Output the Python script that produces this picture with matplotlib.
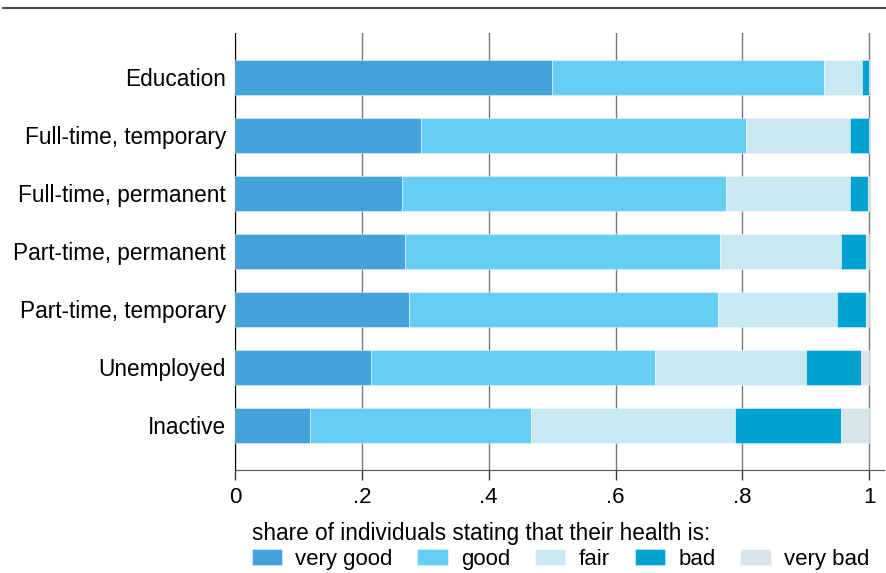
import matplotlib.pyplot as plt
import numpy as np

plt.rcParams['font.family'] = ['Liberation Sans', 'DejaVu Sans']

groups = ["Education", "Full-time, temporary", "Full-time, permanent",
          "Part-time, permanent", "Part-time, temporary", "Unemployed", "Inactive"]
very_good = [0.500, 0.294, 0.264, 0.268, 0.274, 0.215, 0.118]
good = [0.429, 0.511, 0.510, 0.497, 0.487, 0.447, 0.349]
fair = [0.060, 0.165, 0.196, 0.191, 0.188, 0.238, 0.321]
bad = [0.010, 0.029, 0.028, 0.039, 0.046, 0.087, 0.168]
very_bad = [0.001, 0.001, 0.002, 0.005, 0.005, 0.013, 0.044]

names = ["very good", "good", "fair", "bad", "very bad"]
colors = ["#44a2db", "#67cdf5", "#c8e8f2", "#00a2d2", "#d6e5ec"]
series = [very_good, good, fair, bad, very_bad]

fig = plt.figure(figsize=(8.86, 5.73), dpi=100)
ax = fig.add_axes([0.2652, 0.1798, 0.7325, 0.7626])

y = np.arange(len(groups))
left = np.zeros(len(groups))
for vals, name, col in zip(series, names, colors):
    ax.barh(y, vals, left=left, height=0.6, color=col, label=name,
            edgecolor=(1, 1, 1, 0.5), linewidth=0.6, zorder=3)
    left = left + np.array(vals)

ax.set_ylim(6.77, -0.76)
ax.set_xlim(0, 1.023)
ax.set_yticks(y)
ax.set_yticklabels(groups, fontsize=16.3)
ax.tick_params(axis='y', length=0, pad=6.5)
ax.set_xticks([0, 0.2, 0.4, 0.6, 0.8, 1.0])
ax.set_xticklabels(["0", ".2", ".4", ".6", ".8", "1"], fontsize=16)
ax.tick_params(axis='x', length=7, width=1, color='#333333', pad=5)
ax.grid(axis='x', color='#777777', linewidth=1, zorder=0)

for s in ['top', 'right']:
    ax.spines[s].set_visible(False)
ax.spines['left'].set_color('black')
ax.spines['bottom'].set_color('#555555')

fig.add_artist(plt.Line2D([0.003, 1.0], [0.986, 0.986], color='#222222', linewidth=1.2))

leg = fig.legend(loc='lower left', bbox_to_anchor=(0.279, -0.002), ncol=5, frameon=False,
                 title="share of individuals stating that their health is:",
                 fontsize=16, title_fontsize=16.3, handlelength=1.36, handleheight=0.75,
                 handletextpad=0.6, columnspacing=1.12, borderaxespad=0.0, borderpad=0.2,
                 labelspacing=0.2)
leg._legend_box.align = 'left'
leg._legend_box.sep = 3

fig.savefig("out.png", dpi=100)
